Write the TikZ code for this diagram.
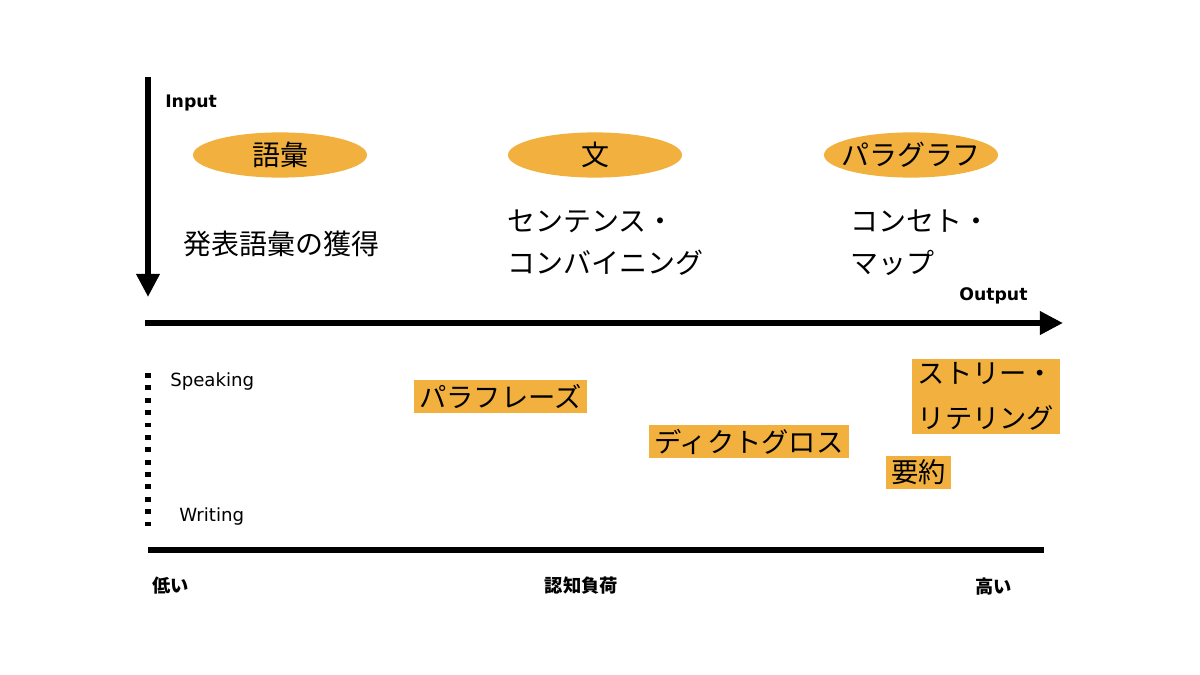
\documentclass[tikz,border=0pt]{standalone}
\usepackage{fontspec}
\setmainfont{DejaVu Sans}
\newfontfamily\jpfont{Noto Sans CJK JP}
\usetikzlibrary{arrows.meta,positioning,shapes.geometric}
\definecolor{taskfill}{RGB}{242,177,62}

\begin{document}
\begin{tikzpicture}[
    x=0.025cm, y=-0.025cm,
    blob/.style={ellipse, fill=taskfill, minimum width=4.35cm, minimum height=1.13cm, inner sep=0pt},
    jptext/.style={font=\jpfont\fontsize{19.9pt}{29.8pt}\selectfont, inner sep=0pt, align=left},
    task/.style={fill=taskfill, inner xsep=4pt, inner ysep=0pt, minimum height=0.83cm, align=left,
                 font=\jpfont\fontsize{19.4pt}{32pt}\selectfont},
    axislabel/.style={font=\bfseries\fontsize{12.3pt}{14pt}\selectfont, inner sep=0pt},
    modelabel/.style={font=\fontsize{12.9pt}{15pt}\selectfont, inner sep=0pt},
    loadlabel/.style={font=\jpfont\bfseries\fontsize{13pt}{15pt}\selectfont, inner sep=0pt},
    axis/.style={line width=4pt, -{Triangle[length=16.5pt,width=16pt]}}
]
\useasboundingbox (0,0) rectangle (1200,675);

% Axes
\coordinate (in-top) at (148,77);
\coordinate (in-tip) at (148,297);
\coordinate (out-left) at (145,323);
\coordinate (out-tip) at (1063,323);
\coordinate (sw-top) at (148,373);
\coordinate (sw-bottom) at (148,528);
\coordinate (load-left) at (148,550);
\coordinate (load-right) at (1044,550);

\draw[axis] (in-top) -- (in-tip);
\draw[axis] (out-left) -- (out-tip);
\draw[line width=4.3pt, dash pattern=on 3.5pt off 5.3pt] (sw-top) -- (sw-bottom);
\draw[line width=4.3pt] (load-left) -- (load-right);

\node[axislabel, anchor=west] (input) at (165,103) {Input};
\node[axislabel, anchor=west] (output) at (959,296) {Output};

% Top row
\node[blob, label={[jptext]center:語彙}] (vocab) at (280,155) {};
\node[blob, label={[jptext]center:文}] (sentence) at (595,155) {};
\node[blob, label={[jptext]center:パラグラフ}] (paragraph) at (911,155) {};

\node[jptext, anchor=west] (vocabtask) at (183,244) {発表語彙の獲得};
\node[jptext, anchor=north west] (sentencetask) at (507,210) {センテンス・\\コンバイニング};
\node[jptext, anchor=north west] (paragraphtask) at (850,210) {コンセト・\\マップ};

% Bottom row
\node[modelabel, anchor=west] (speaking) at (170,381) {Speaking};
\node[modelabel, anchor=west] (writing) at (179,516) {Writing};

\node[task] (paraphrase) at (500.5,396.5) {パラフレーズ};
\node[task] (dictogloss) at (749,441.5) {ディクトグロス};
\node[task, minimum height=1.88cm] (retelling) at (986,396.5) {ストリー・\\リテリング};
\node[task] (summary) at (918.5,472.5) {要約};

\node[loadlabel, anchor=west] (low) at (152,586) {低い};
\node[loadlabel] (load) at (581.5,586) {認知負荷};
\node[loadlabel] (high) at (993.5,587) {高い};

\end{tikzpicture}
\end{document}
